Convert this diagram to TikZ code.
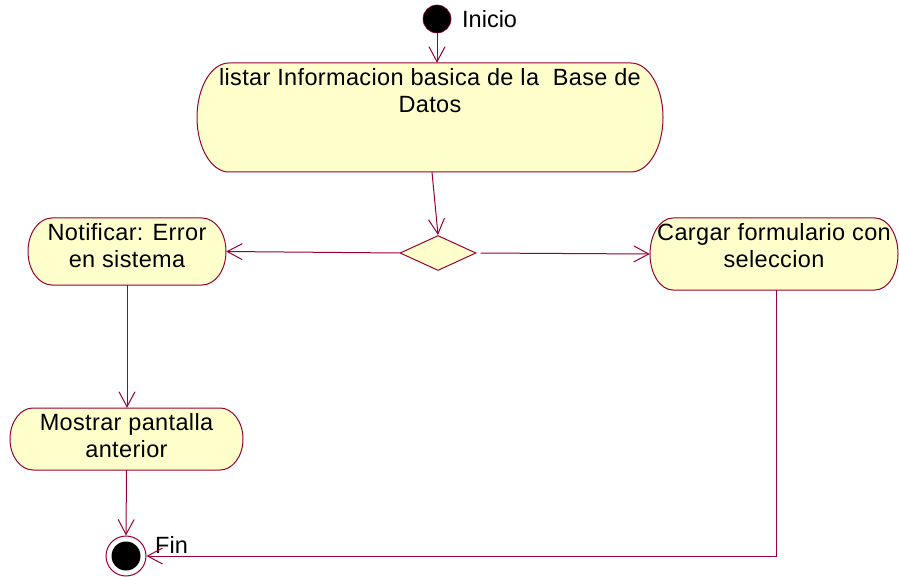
\documentclass[tikz,border=0pt]{standalone}
\usepackage{fontspec}
\setmainfont{Liberation Sans}
\usetikzlibrary{arrows.meta,shapes.geometric,calc}
\definecolor{umlline}{RGB}{153,0,51}
\definecolor{umlfill}{RGB}{255,255,204}
\tikzset{
  actshape/.style={draw=umlline, fill=umlfill, line width=1pt},
  acttext/.style={anchor=north, align=center, inner sep=0pt, font=\fontsize{23.5}{27}\selectfont\addfontfeature{LetterSpace=1.5}},
  flow/.style={draw=umlline, line width=1pt, -{Straight Barb[length=15pt,width=16pt,line width=1pt]}},
  lbl/.style={anchor=west, inner sep=0pt, font=\fontsize{23.5}{27}\selectfont},
}
% name, x1, y1, x2, y2, rx, text
\newcommand\actbox[7]{%
  \path[actshape] (#2+#6,#3) -- (#4-#6,#3)
     arc[start angle=-90,end angle=90,x radius=#6,y radius={(#5-#3)/2}]
     -- (#2+#6,#5)
     arc[start angle=90,end angle=270,x radius=#6,y radius={(#5-#3)/2}] -- cycle;
  \node[inner sep=0pt, minimum width={(#4-#2)*1pt}, minimum height={(#5-#3)*1pt}] (#1) at ({(#2+#4)/2},{(#3+#5)/2}) {};
  \node[acttext] at ({(#2+#4)/2},#3+5) {#7};
}
\begin{document}
\begin{tikzpicture}[x=1pt,y=-1pt]
\useasboundingbox (0,0) rectangle (899,577);
% start
\node[circle, fill=black, draw=umlline, line width=0.6pt, minimum size=28pt, inner sep=0pt] (start) at (437,19) {};
\node[lbl] (inicio) at (462,19) {Inicio};
% activities
\actbox{big}{197}{63}{663}{172}{32}{listar Informacion basica de la\ \ Base de\\Datos}
\actbox{notif}{28}{218}{226}{285}{24}{Notificar: Error\\en sistema}
\actbox{cargar}{650}{218}{898}{290}{23}{Cargar formulario con\\seleccion}
\actbox{mostrar}{10}{408}{243}{470}{23}{Mostrar pantalla\\anterior}
% decision
\node[diamond, draw=umlline, fill=umlfill, line width=1pt, minimum width=76pt, minimum height=35pt, inner sep=0pt] (dec) at (438,253) {};
% end
\node[circle, draw=umlline, fill=white, line width=1pt, minimum size=40pt, inner sep=0pt] (fin) at (126,556) {};
\node[circle, fill=black, minimum size=29pt, inner sep=0pt] (fininner) at (fin.center) {};
\node[lbl] (finlbl) at (155,545) {Fin};
% connectors
\draw[flow] (start.south) -- (start.south |- big.north);
\draw[flow] ([xshift=2pt]big.south) -- (dec.north);
\draw[flow] (dec.west) -- (notif.east);
\draw[flow, shorten <=4pt] (dec.east) -- (cargar.west);
\draw[flow] (notif.south) -- (notif.south |- mostrar.north);
\draw[flow] (mostrar.south) -- (fin.north);
\draw[flow] ([xshift=2pt]cargar.south) |- (fin.east);
\end{tikzpicture}
\end{document}
